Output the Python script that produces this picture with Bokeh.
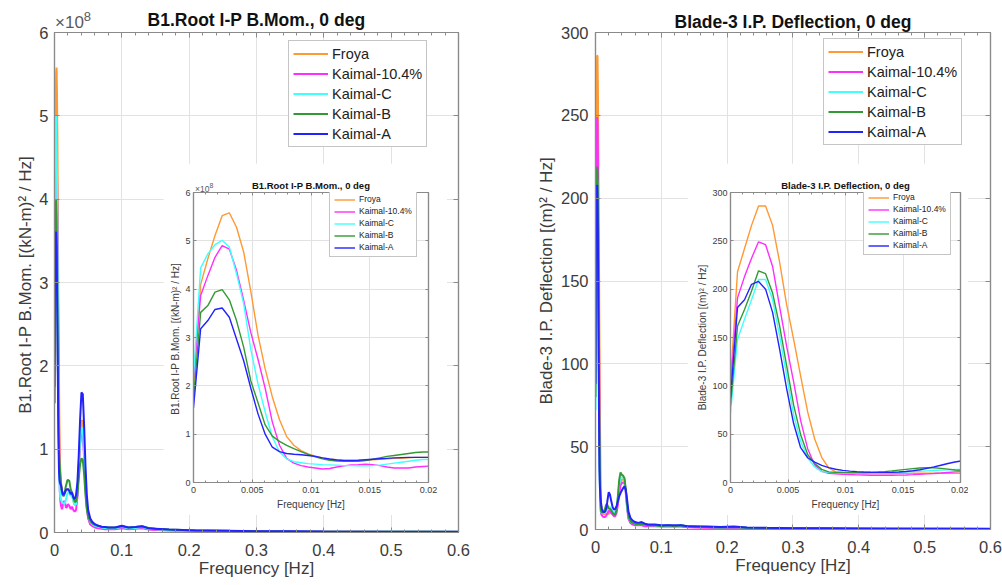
from bokeh.plotting import figure
from bokeh.models import (GridBox, Legend, LegendItem, LinearAxis, Range1d, Grid, Div,
                          SingleIntervalTicker, CustomJSTickFormatter)
from bokeh.embed import file_html
from bokeh.resources import INLINE

FONT = "Liberation Sans"

# ---------------- data ----------------
SERIES = ["Froya", "Kaimal-10.4%", "Kaimal-C", "Kaimal-B", "Kaimal-A"]
COLORS = ["#FF9933", "#FF2EFF", "#40FFFF", "#339933", "#2222FF"]

# low-frequency part (inset range), Hz
F_LOW = [0.0, 0.00061, 0.00122, 0.00183, 0.00244, 0.00305, 0.00366, 0.00427, 0.00488,
         0.00549, 0.0061, 0.00671, 0.00732, 0.00793, 0.00854, 0.00915, 0.00976, 0.01037,
         0.01098, 0.01159, 0.0122, 0.01281, 0.01342, 0.01403, 0.01464, 0.01525, 0.01586,
         0.01647, 0.01708, 0.01769, 0.0183, 0.01891, 0.01952, 0.02013]
# higher-frequency part (main plot only), Hz
F_HIGH = [0.022, 0.024, 0.026, 0.028, 0.030, 0.032, 0.034, 0.036, 0.038, 0.040, 0.042,
          0.044, 0.046, 0.048, 0.050, 0.053, 0.056, 0.060, 0.065, 0.070, 0.075, 0.080,
          0.090, 0.100, 0.110, 0.120, 0.130, 0.140, 0.150, 0.170, 0.190, 0.210, 0.230,
          0.260, 0.300, 0.350, 0.400, 0.450, 0.500, 0.550, 0.600]

# B1 root in-plane bending moment PSD, units of 1e8 (kN-m)^2/Hz
MOM_LOW = {
    "Froya": [2.0, 4.1, 4.63, 5.11, 5.52, 5.58, 5.28, 4.77, 3.95, 3.05, 2.35, 1.77, 1.30,
              0.95, 0.77, 0.66, 0.59, 0.545, 0.51, 0.48, 0.47, 0.455, 0.455, 0.455, 0.46,
              0.47, 0.48, 0.49, 0.50, 0.50, 0.51, 0.52, 0.52, 0.52],
    "Kaimal-10.4%": [2.15, 3.87, 4.28, 4.66, 4.90, 4.83, 4.39, 3.77, 3.1, 2.55, 1.95, 1.25,
                     0.77, 0.50, 0.40, 0.35, 0.32, 0.30, 0.28, 0.29, 0.32, 0.345, 0.365,
                     0.37, 0.38, 0.37, 0.35, 0.32, 0.30, 0.30, 0.30, 0.32, 0.33, 0.34],
    "Kaimal-C": [2.2, 4.44, 4.73, 4.92, 5.01, 4.87, 4.32, 3.70, 2.75, 2.04, 1.46, 0.94, 0.63,
                 0.49, 0.43, 0.41, 0.39, 0.38, 0.37, 0.365, 0.36, 0.35, 0.35, 0.345, 0.345,
                 0.35, 0.36, 0.38, 0.40, 0.42, 0.44, 0.46, 0.475, 0.48],
    "Kaimal-B": [1.75, 3.52, 3.66, 3.94, 3.99, 3.78, 3.35, 2.80, 2.10, 1.65, 1.19, 0.96, 0.85,
                 0.77, 0.70, 0.64, 0.58, 0.53, 0.49, 0.46, 0.445, 0.44, 0.44, 0.44, 0.455,
                 0.48, 0.51, 0.54, 0.56, 0.58, 0.60, 0.62, 0.63, 0.63],
    "Kaimal-A": [1.55, 3.18, 3.35, 3.58, 3.61, 3.42, 2.97, 2.52, 1.95, 1.42, 1.00, 0.73, 0.64,
                 0.60, 0.585, 0.575, 0.56, 0.54, 0.51, 0.485, 0.465, 0.455, 0.455, 0.46,
                 0.47, 0.48, 0.49, 0.50, 0.51, 0.515, 0.52, 0.52, 0.52, 0.52],
}
MOM_HIGH = {
    "Froya": [0.50, 0.45, 0.45, 0.38, 0.33, 0.34, 0.48, 0.80, 1.15, 1.34, 1.34, 1.00, 0.60,
              0.32, 0.18, 0.10, 0.08, 0.07, 0.06, 0.055, 0.05, 0.045, 0.05, 0.06, 0.05, 0.05,
              0.06, 0.04, 0.035, 0.03, 0.025, 0.02, 0.02, 0.018, 0.014, 0.012, 0.01, 0.01,
              0.008, 0.008, 0.007],
    "Kaimal-10.4%": [0.32, 0.28, 0.31, 0.27, 0.25, 0.27, 0.42, 0.75, 1.05, 1.20, 1.18, 0.90,
                     0.55, 0.30, 0.17, 0.10, 0.08, 0.06, 0.05, 0.045, 0.04, 0.04, 0.04, 0.05,
                     0.04, 0.045, 0.05, 0.035, 0.03, 0.025, 0.02, 0.018, 0.016, 0.014, 0.012,
                     0.01, 0.008, 0.008, 0.007, 0.007, 0.006],
    "Kaimal-C": [0.47, 0.44, 0.44, 0.38, 0.33, 0.34, 0.48, 0.80, 1.10, 1.26, 1.24, 0.95, 0.58,
                 0.33, 0.20, 0.13, 0.10, 0.08, 0.07, 0.06, 0.055, 0.05, 0.05, 0.065, 0.05,
                 0.055, 0.065, 0.045, 0.04, 0.03, 0.025, 0.022, 0.02, 0.018, 0.014, 0.012,
                 0.01, 0.01, 0.008, 0.008, 0.007],
    "Kaimal-B": [0.62, 0.52, 0.48, 0.42, 0.37, 0.37, 0.45, 0.65, 0.82, 0.89, 0.87, 0.70, 0.45,
                 0.28, 0.19, 0.14, 0.11, 0.09, 0.08, 0.07, 0.065, 0.06, 0.06, 0.075, 0.06,
                 0.065, 0.075, 0.055, 0.045, 0.035, 0.03, 0.025, 0.022, 0.02, 0.015, 0.012,
                 0.01, 0.01, 0.009, 0.008, 0.008],
    "Kaimal-A": [0.50, 0.46, 0.48, 0.42, 0.40, 0.45, 0.60, 0.92, 1.35, 1.68, 1.66, 1.28, 0.80,
                 0.45, 0.27, 0.17, 0.13, 0.10, 0.08, 0.07, 0.065, 0.06, 0.06, 0.08, 0.06,
                 0.065, 0.075, 0.05, 0.045, 0.035, 0.03, 0.025, 0.025, 0.02, 0.015, 0.015,
                 0.012, 0.01, 0.01, 0.01, 0.008],
}

# Blade-3 in-plane deflection PSD, (m)^2/Hz
DEF_LOW = {
    "Froya": [105, 218, 242, 266, 286, 286, 266, 228, 184, 148, 110, 73, 45, 26, 15, 11,
              10.5, 10, 9.7, 9.5, 9.3, 9.2, 9.2, 9.2, 9.3, 9.4, 9.5, 9.5, 9.5, 9.5, 9.5,
              9.5, 9.5, 9.5],
    "Kaimal-10.4%": [100, 191, 213, 232, 249, 246, 223.5, 182, 141, 104, 64, 35, 18, 11.5,
                     9.5, 9, 8.5, 8.2, 7.9, 7.7, 7.5, 7.5, 7.5, 7.5, 7.6, 7.8, 8.1, 8.5,
                     8.9, 9.3, 9.8, 10.4, 11, 11.3],
    "Kaimal-C": [72, 148, 169, 189, 210, 210, 189, 152, 111, 70, 42.7, 25.6, 16, 11.3, 10.5,
                 10.2, 10, 10, 10, 10, 10, 10, 10, 10.2, 10.5, 10.8, 11.2, 11.6, 12, 12.4,
                 12.8, 13.1, 13.4, 13.5],
    "Kaimal-B": [80, 162, 179, 198, 219, 216, 196, 162, 121, 80, 49.5, 29, 19.5, 13.6, 11,
                 10.5, 10.3, 10.2, 10.2, 10.3, 10.5, 10.8, 11.3, 12, 12.8, 13.6, 14.4, 15,
                 15.4, 15.2, 14.6, 13.8, 13, 12.6],
    "Kaimal-A": [88, 181, 189, 205, 208, 200, 176, 138, 97, 61, 36, 25.6, 21, 17.7, 15.4,
                 13.7, 12.5, 11.8, 11.2, 10.8, 10.6, 10.5, 10.5, 10.6, 10.9, 11.4, 12.1,
                 13.2, 14.6, 16.2, 17.9, 19.6, 21.2, 22.5],
}
DEF_HIGH = {
    "Froya": [10, 10, 9.5, 9.5, 10, 12, 17, 24, 28.5, 30, 30.5, 30, 24, 15, 7, 4.5, 3.5, 3,
              3, 3, 2.5, 2.5, 2.5, 2, 2, 2, 2, 1.5, 1.5, 1.2, 1, 1.2, 0.8, 0.7, 0.6, 0.5,
              0.5, 0.4, 0.4, 0.35, 0.3],
    "Kaimal-10.4%": [11, 10, 9, 8, 8, 10, 15, 22, 26.5, 28, 28.5, 28, 22, 13, 6.5, 4, 3,
                     2.5, 2.5, 2.5, 2, 2, 2, 1.8, 1.8, 1.8, 1.8, 1.4, 1.2, 1, 0.9, 1, 0.7,
                     0.6, 0.5, 0.5, 0.4, 0.4, 0.35, 0.3, 0.3],
    "Kaimal-C": [13.5, 12.5, 11, 10, 10.5, 13, 19, 27, 31, 31.5, 31.5, 30, 23, 14, 7.5, 5,
                 4, 3.5, 3, 3.5, 3, 2.5, 2.5, 2, 2.5, 2, 2.5, 1.8, 1.5, 1.5, 1.2, 1.5, 1,
                 0.8, 0.7, 0.6, 0.5, 0.5, 0.4, 0.4, 0.35],
    "Kaimal-B": [12.5, 11.5, 10, 9, 9, 12, 20, 30, 34.5, 33, 32.5, 31, 24, 15, 8, 5, 4,
                 3.5, 3, 3.5, 3, 2.5, 2.5, 2, 2.5, 2, 2.5, 1.8, 1.5, 1.5, 1.2, 1.5, 1, 0.8,
                 0.7, 0.6, 0.5, 0.5, 0.4, 0.4, 0.35],
    "Kaimal-A": [21, 17, 13.5, 12, 12.5, 14, 17, 20, 22, 23.5, 25, 26, 24, 18, 11, 7, 5.5,
                 4.5, 4, 4.5, 3.5, 3, 3, 2.5, 2.5, 2.5, 2.5, 2, 2, 1.8, 1.5, 1.8, 1.2, 1,
                 0.8, 0.7, 0.6, 0.5, 0.5, 0.4, 0.4],
}

TITLE_MOM = "B1.Root I-P B.Mom., 0 deg"
TITLE_DEF = "Blade-3 I.P. Deflection, 0 deg"
YLAB_MOM = "B1.Root I-P B.Mom.  [(kN-m)\u00b2 / Hz]"
YLAB_DEF = "Blade-3 I.P. Deflection [(m)\u00b2 / Hz]"
XLAB = "Frequency [Hz]"

# ---------------- styling helpers ----------------
AX_COLOR = "#8a8a8a"
TXT_COLOR = "#3c3c3c"
GRID_COLOR = "#e2e2e2"
FMT = "return String(parseFloat(tick.toFixed(4)));"


def make_fig(size, borders, xr, yr, xint, yint, sizes, title, xlab, ylab, frame=False):
    (fs_title, fs_tick, fs_lab, tick_in, minor_in, x_so, y_so, xl_so, yl_so, t_so) = sizes
    if frame:
        dims = dict(frame_width=size[0], frame_height=size[1])
    else:
        dims = dict(width=size[0], height=size[1])
    p = figure(output_backend="svg", toolbar_location=None,
               x_range=Range1d(*xr), y_range=Range1d(*yr),
               x_axis_type=None, y_axis_type=None,
               min_border_left=borders[0], min_border_right=borders[1],
               min_border_top=borders[2], min_border_bottom=borders[3], **dims)
    p.background_fill_color = "white"
    p.border_fill_color = "white"
    p.outline_line_color = AX_COLOR
    p.outline_line_width = 1.2
    p.title.text = title
    p.title.align = "center"
    p.title.text_font = FONT
    p.title.text_font_size = fs_title
    p.title.text_font_style = "bold"
    p.title.text_color = "#111111"
    p.title.standoff = t_so

    xt = SingleIntervalTicker(interval=xint, num_minor_ticks=5)
    yt = SingleIntervalTicker(interval=yint, num_minor_ticks=0)
    for loc, ticker, lab, so, lso in (("below", xt, xlab, x_so, xl_so),
                                      ("left", yt, ylab, y_so, yl_so),
                                      ("above", xt, None, 0, 0),
                                      ("right", yt, None, 0, 0)):
        ax = LinearAxis(ticker=ticker)
        if lab is None:
            ax.formatter = CustomJSTickFormatter(code="return '';")
            ax.major_label_text_font_size = "1px"
            ax.major_label_standoff = 0
        else:
            ax.formatter = CustomJSTickFormatter(code=FMT)
            ax.axis_label = lab
            ax.major_label_text_font = FONT
            ax.major_label_text_font_size = fs_tick
            ax.major_label_text_color = TXT_COLOR
            ax.major_label_standoff = so
            ax.axis_label_text_font = FONT
            ax.axis_label_text_font_size = fs_lab
            ax.axis_label_text_font_style = "normal"
            ax.axis_label_text_color = TXT_COLOR
            ax.axis_label_standoff = lso
        ax.axis_line_color = AX_COLOR
        ax.axis_line_width = 1.2
        ax.major_tick_line_color = AX_COLOR
        ax.minor_tick_line_color = AX_COLOR
        ax.major_tick_in = tick_in
        ax.major_tick_out = 0
        ax.minor_tick_in = minor_in
        ax.minor_tick_out = 0
        p.add_layout(ax, loc)
    p.add_layout(Grid(dimension=0, ticker=xt, grid_line_color=GRID_COLOR))
    p.add_layout(Grid(dimension=1, ticker=yt, grid_line_color=GRID_COLOR))
    return p


def add_lines(p, xs, data, lw):
    items = []
    for name, col in zip(SERIES, COLORS):
        r = p.line(xs, data[name], line_color=col, line_width=lw)
        items.append(LegendItem(label=name, renderers=[r]))
    return items


def add_legend(p, items, loc, fs, gw, gh, sp, pad):
    lg = Legend(items=items, location=loc, label_text_font=FONT, label_text_font_size=fs,
                label_text_color="#222222", glyph_width=gw, glyph_height=gh,
                label_height=gh, spacing=sp, padding=pad, margin=0, label_standoff=4,
                border_line_color="#8c8c8c", border_line_width=1.2,
                background_fill_color="white", background_fill_alpha=1.0)
    p.add_layout(lg)


def exp_div(fs, sup_fs, margin):
    html = (f'<span style="font-family:\'{FONT}\';font-size:{fs};line-height:{fs};'
            f'color:#5a5a5a;white-space:nowrap">\u00d710'
            f'<sup style="font-size:{sup_fs};line-height:0">8</sup></span>')
    return Div(text=html, width=60, height=24, margin=margin)


X_MAX = 0.6000001
f_main = F_LOW + F_HIGH
mom_main = {k: MOM_LOW[k] + MOM_HIGH[k] for k in SERIES}
def_main = {k: DEF_LOW[k] + DEF_HIGH[k] for k in SERIES}

# ---- left main ----
p1 = make_fig((404, 500), (54, 42, 32, 53), (0, X_MAX), (0, 6), 0.1, 1,
              ("17.5px", "16.5px", "17px", 5, 3, 11, 6, 0, 1, 6),
              TITLE_MOM, XLAB, YLAB_MOM, frame=True)
add_legend(p1, add_lines(p1, f_main, mom_main, 2), (234, 385), "14.5px", 35, 17, 3, 4)

# ---- left inset ----
i1 = make_fig((284, 352), (30, 19, 29, 33), (0, 0.02), (0, 6), 0.005, 1,
              ("9.5px", "9px", "10px", 3, 2, 4, 3, 3, 1, 3),
              TITLE_MOM, XLAB, YLAB_MOM)
add_legend(i1, add_lines(i1, F_LOW, MOM_LOW, 1.4), (136, 225), "8.5px", 21, 9, 2, 4)

# ---- right main ----
p2 = make_fig((395, 497), (95, 12, 28, 57), (0, X_MAX), (0, 300), 0.1, 50,
              ("17.5px", "16.5px", "17px", 5, 3, 11, 7, 0, 2, 2),
              TITLE_DEF, XLAB, YLAB_DEF, frame=True)
add_legend(p2, add_lines(p2, f_main, def_main, 2), (228, 384), "14.5px", 35, 17, 3, 4)

# ---- right inset ----
i2 = make_fig((281, 352), (43, 8, 29, 30), (0, 0.02), (0, 300), 0.005, 50,
              ("9.5px", "9px", "10px", 3, 2, 4, 3, 3, 1, 3),
              TITLE_DEF, XLAB, YLAB_DEF)
add_legend(i2, add_lines(i2, F_LOW, DEF_LOW, 1.4), (133, 227), "8.5px", 21, 9, 2, 4)

d1 = exp_div("17px", "13px", (14, 0, 0, 55))
d2 = exp_div("8.5px", "7px", (17, 0, 0, 32))

grid = GridBox(children=[(p1, 0, 0, 3, 3), (d1, 0, 0, 1, 1), (i1, 1, 1, 1, 1), (d2, 1, 1, 1, 1),
                         (p2, 0, 3, 3, 3), (i2, 1, 4, 1, 1)],
               rows=["163px", "352px", "70px"],
               cols=["163px", "284px", "53px", "187px", "281px", "34px"],
               spacing=0, styles={"overflow": "hidden"})

open("out.html", "w").write(file_html(grid, INLINE))
